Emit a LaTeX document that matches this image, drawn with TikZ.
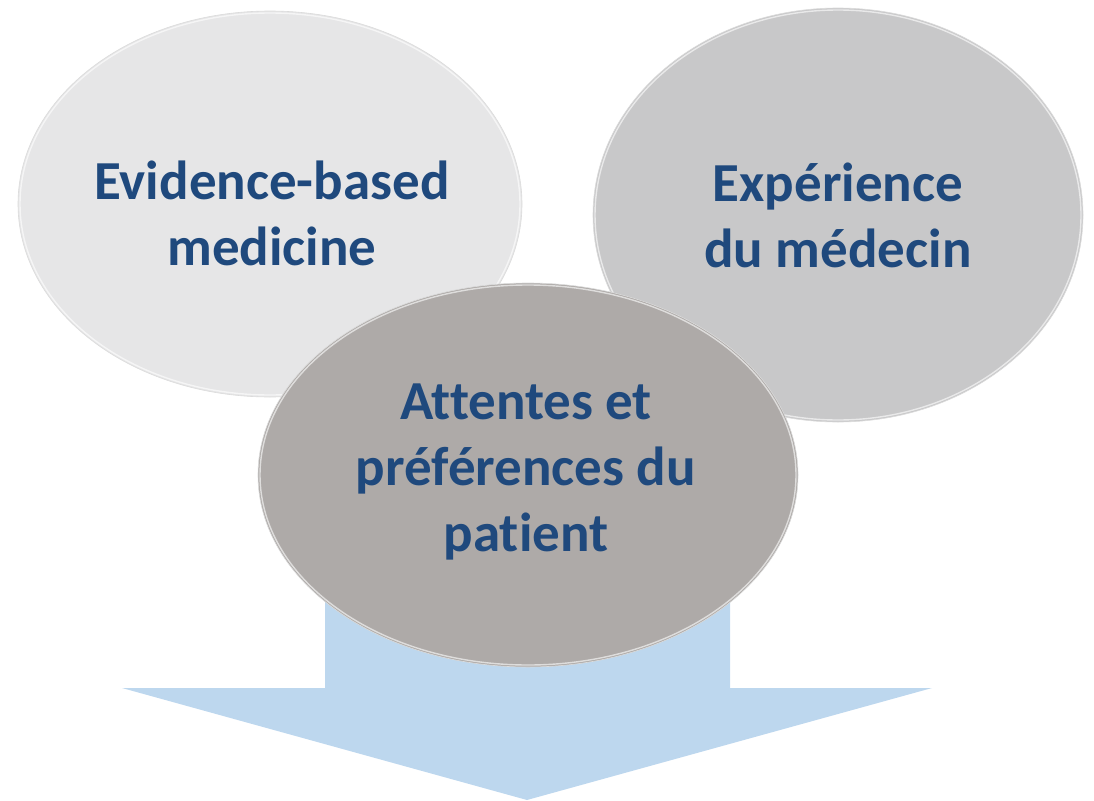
\documentclass[tikz,border=0pt]{standalone}
\usepackage{fontspec}
\setmainfont{Carlito}[Ligatures={NoCommon,NoRare,NoContextual}]
\usetikzlibrary{shapes.geometric}
\definecolor{txtblue}{HTML}{1F497D}
\definecolor{arrowblue}{HTML}{BDD7EE}
\definecolor{grayA}{HTML}{E6E6E7}
\definecolor{grayB}{HTML}{C8C8C9}
\definecolor{grayC}{HTML}{AEAAA8}
\tikzset{
  bubble/.style={ellipse, inner sep=0pt, align=center, text=txtblue,
    font=\bfseries\fontsize{55}{66}\selectfont, draw=black!14, line width=0.6pt},
  rim/.style={draw=white, line width=1.4pt, opacity=0.6},
  labeltext/.style={align=center, text=txtblue, inner sep=0pt,
    font=\bfseries\fontsize{55}{66}\selectfont}
}
\begin{document}
\begin{tikzpicture}[x=1pt,y=-1pt]
\useasboundingbox (0,0) rectangle (1094,800);
% block arrow
\fill[arrowblue] (325,598) -- (730,598) -- (730,688) -- (932,688) -- (527,800)
  -- (122,688) -- (325,688) -- cycle;
% left ellipse
\node[bubble, fill=grayA, minimum width=504pt, minimum height=386pt] (ebm) at (270,204) {};
\draw[rim] (ebm.center) ellipse [x radius=250, y radius=191];
\node[labeltext] (ebmtxt) at (272,213) {Evidence-based\\medicine};
% right ellipse
\node[bubble, fill=grayB, minimum width=490pt, minimum height=414pt] (exp) at (838,215) {};
\draw[rim] (exp.center) ellipse [x radius=243, y radius=205];
\node[labeltext] (exptxt) at (838,215) {Expérience\\du médecin};
% middle ellipse
\node[bubble, fill=grayC, minimum width=540pt, minimum height=384pt] (pat) at (528,475) {};
\draw[rim] (pat.center) ellipse [x radius=268, y radius=190];
\node[labeltext] (pattxt) at (526,472) {Attentes et\\préférences du\\patient};
\end{tikzpicture}
\end{document}
